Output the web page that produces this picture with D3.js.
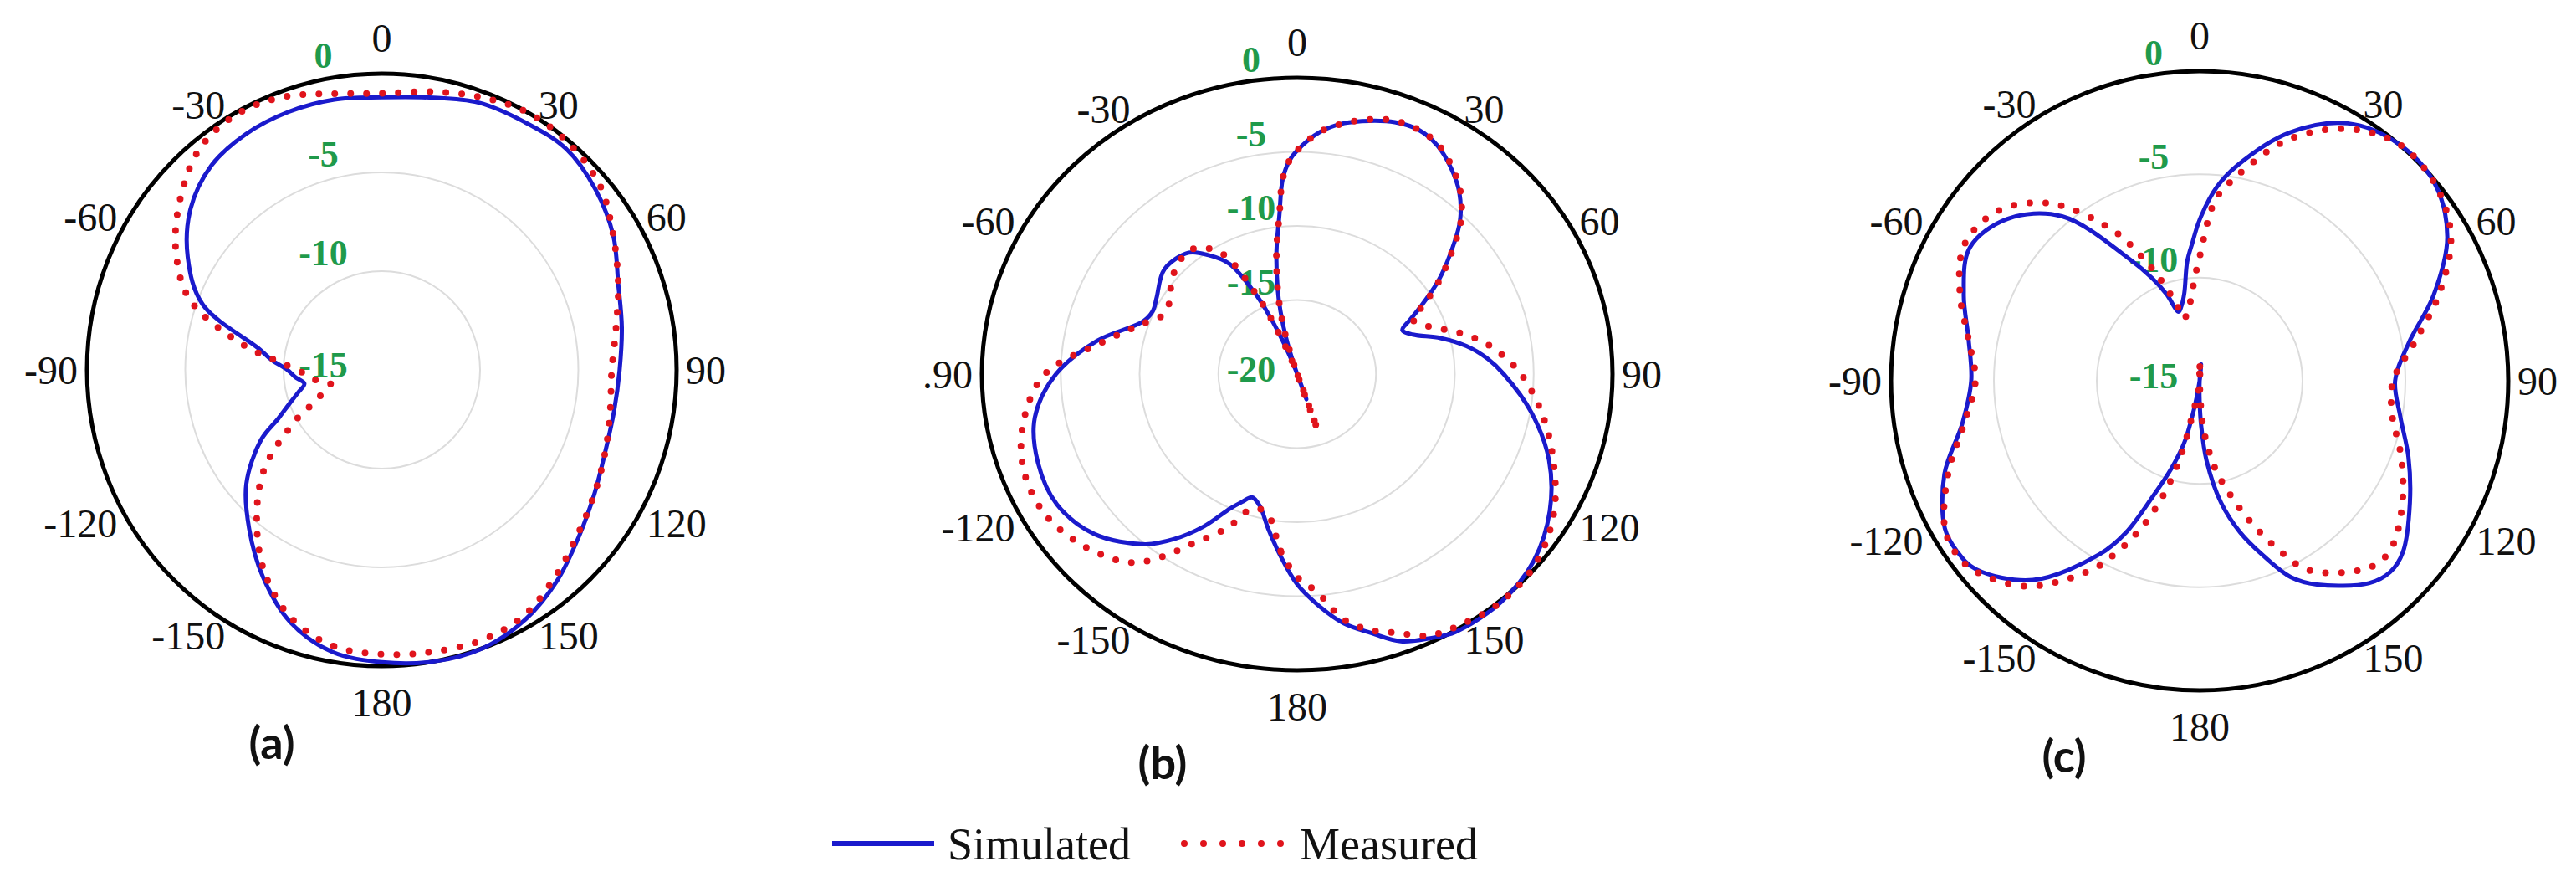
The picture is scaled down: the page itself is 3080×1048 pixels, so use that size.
<!DOCTYPE html>
<html>
<head>
<meta charset="utf-8">
<script src="https://cdn.jsdelivr.net/npm/d3@7"></script>
<style>
  body { margin: 0; background: #fff; }
  svg { display: block; }
</style>
</head>
<body>
<div id="chart"></div>
<script>
const width = 3080, height = 1048;

// angle ticks, clockwise from the top
const angleTicks = [0, 30, 60, 90, 120, 150, 180, -150, -120, -90, -60, -30];
const angleLabelsA = ["0", "30", "60", "90", "120", "150", "180", "-150", "-120", "-90", "-60", "-30"];
const angleLabelsB = ["0", "30", "60", "90", "120", "150", "180", "-150", "-120", ".90", "-60", "-30"];
const angleLabelsC = angleLabelsA;

// radial rings in dB (outer ring first)
const ringsA = [0, -5, -10, -15];
const ringsB = [0, -5, -10, -15, -20];
const ringsC = [0, -5, -10, -15];

const seriesNames = ["Simulated", "Measured"];
const panelNames = ["(a)", "(b)", "(c)"];

// (a) pattern, dB
const anglesA = [-180, -170, -160, -150, -140, -130, -120, -115, -110, -105, -100, -95, -90, -85, -80, -70, -60, -50, -40, -30,
  -20, -10, 0, 10, 20, 30, 40, 50, 60, 70, 80, 90, 100, 110, 120, 130, 140, 150, 160, 170];
const simA = [-0.2, -0.5, -1.4, -2.9, -4.5, -6.0, -7.9, -9.2, -10.0, -10.6, -11.0, -10.6, -10.2, -9.4, -8.6, -5.3, -3.6, -2.3, -1.5, -1.2,
  -1.1, -1.1, -1.2, -1.0, -0.6, -0.5, -0.4, -0.8, -1.4, -2.2, -2.6, -2.9, -3.0, -2.9, -2.5, -1.9, -1.1, -0.4, 0.0, 0.0];
const measA = [-0.6, -0.8, -1.6, -3.1, -5.1, -7.2, -10.0, -11.3, -11.9, -12.3, -11.7, -11.3, -10.7, -9.6, -7.9, -4.6, -2.9, -1.6, -0.5, -0.1,
  -0.3, -0.8, -1.0, -0.7, -0.3, 0.0, -0.1, -0.5, -1.4, -2.2, -2.9, -3.3, -3.2, -2.9, -2.5, -2.0, -1.3, -0.6, -0.4, -0.5];

// (b) pattern, dB (values under -20 fold through the centre)
const anglesB = [-180, -175, -170, -165, -161, -158, -155, -150, -145, -140,
  -130, -120, -110, -100, -90, -80, -70, -65, -60, -50,
  -40, -35, -30, -26, -24, -22, -20, -19, -18, -16,
  -14, -12, -9, -6, -4, -2, 0, 5, 10, 15,
  20, 25, 30, 35, 40, 45, 50, 55, 60, 63,
  66, 70, 75, 80, 85, 90, 100, 110, 120, 130,
  140, 150, 155, 160, 165, 170, 175];
const simB = [-5.8, -7.7, -9.4, -10.8, -11.2, -10.7, -10.0, -8.1, -6.4, -5.0,
  -3.2, -2.4, -2.5, -3.1, -4.7, -7.1, -9.6, -9.9, -9.7, -9.0,
  -9.3, -10.2, -11.4, -14.0, -15.8, -17.8, -19.6, -21.8, -19.6, -17.4,
  -15.6, -14.0, -11.6, -9.2, -6.8, -5.6, -4.9, -3.6, -2.8, -2.3,
  -1.9, -1.8, -2.2, -3.0, -4.0, -5.4, -7.3, -9.1, -11.0, -12.0,
  -12.7, -12.2, -10.6, -9.1, -7.9, -6.9, -4.9, -3.0, -1.5, -0.4,
  0.1, 0.1, -0.3, -0.8, -1.9, -2.9, -4.3];
const measB = [-6.3, -8.0, -10.1, -10.6, -10.2, -9.1, -8.2, -6.8, -4.9, -3.4,
  -2.1, -1.4, -1.5, -2.4, -4.0, -7.5, -9.8, -10.6, -10.6, -9.7,
  -9.2, -9.6, -10.7, -13.8, -15.8, -17.8, -19.6, -24.0, -19.6, -17.4,
  -15.6, -14.0, -11.6, -9.2, -6.8, -5.6, -4.9, -3.6, -2.8, -2.2,
  -1.8, -1.8, -2.1, -2.9, -3.9, -5.3, -7.2, -9.0, -10.8, -11.8,
  -11.6, -10.8, -9.3, -7.9, -6.8, -5.8, -4.2, -2.7, -1.2, -0.2,
  0.1, -0.2, -0.5, -1.4, -2.1, -3.2, -5.2];

// (c) pattern, dB
const anglesC = [-180, -177, -175, -172, -169, -166, -162, -158, -154, -150,
  -140, -130, -125, -120, -110, -100, -90, -80, -70, -60,
  -50, -40, -30, -25, -21, -17, -14, -10, -6, -3,
  0, 5, 10, 20, 30, 40, 50, 60, 70, 80,
  90, 100, 110, 120, 130, 135, 140, 150, 155, 160,
  165, 170, 175, 178];
const simC = [-14.0, -15.0, -15.8, -15.0, -13.7, -11.9, -10.5, -9.0, -6.8, -5.3,
  -2.4, -0.8, -0.6, -0.7, -1.8, -3.3, -3.9, -3.6, -2.8, -2.1,
  -2.8, -4.6, -8.2, -9.5, -10.5, -11.5, -11.3, -10.7, -9.2, -8.3,
  -7.2, -5.6, -4.4, -2.2, -0.6, 0.0, -0.1, -1.1, -2.9, -4.7,
  -5.5, -5.1, -4.2, -3.2, -2.1, -1.9, -2.2, -3.6, -4.5, -6.0,
  -7.4, -9.0, -11.1, -12.8];
const measC = [-15.9, -15.3, -14.7, -14.1, -13.7, -11.3, -9.0, -7.2, -5.7, -4.4,
  -2.0, -0.7, -0.5, -0.7, -2.0, -3.4, -4.1, -3.6, -2.6, -1.8,
  -2.2, -3.8, -6.6, -8.4, -9.8, -11.1, -11.9, -11.6, -11.0, -10.1,
  -9.0, -6.2, -5.0, -2.6, -0.9, 0.0, -0.1, -0.9, -2.6, -4.4,
  -5.6, -5.5, -4.6, -3.6, -2.7, -2.6, -3.0, -4.4, -6.0, -7.7,
  -9.3, -10.7, -12.5, -14.1];

const blue = "#1a1acc", red = "#e0141c", green = "#1f9a4b";
const serif = "'Liberation Serif', 'Times New Roman', serif";

// layout of the three dials
const panels = [
  {cx: 456.5, cy: 442, rx: 352.5, ry: 354, rings: ringsA, labels: angleLabelsA, angles: anglesA, sim: simA, meas: measA, ringDx: -70, name: panelNames[0], nameX: 325, nameY: 888},
  {cx: 1551, cy: 447, rx: 377, ry: 354, rings: ringsB, labels: angleLabelsB, angles: anglesB, sim: simB, meas: measB, ringDx: -55, name: panelNames[1], nameX: 1390, nameY: 912},
  {cx: 2630, cy: 455, rx: 369, ry: 370, rings: ringsC, labels: angleLabelsC, angles: anglesC, sim: simC, meas: measC, ringDx: -55, name: panelNames[2], nameX: 2468, nameY: 904}
];

var svg = d3.select("#chart").append("svg")
    .attr("width", width)
    .attr("height", height);

svg.append("rect").attr("width", width).attr("height", height).style("fill", "#fff");

const rad = a => a * Math.PI / 180;

function drawPanel(p) {
    const g = svg.append("g").attr("transform", `translate(${p.cx},${p.cy})`);
    const lo = d3.min(p.rings);
    const r = d3.scaleLinear().domain([lo, 0]).range([0, 1]);
    const px = (a, v) => r(v) * p.rx * Math.sin(rad(a));
    const py = (a, v) => -r(v) * p.ry * Math.cos(rad(a));

    g.selectAll("ellipse.grid")
        .data(p.rings.filter(v => v < 0 && v > lo))
        .enter().append("ellipse")
        .attr("class", "grid")
        .attr("rx", v => r(v) * p.rx)
        .attr("ry", v => r(v) * p.ry)
        .style("fill", "none")
        .style("stroke", "#dcdcdc")
        .style("stroke-width", 2);

    g.append("ellipse")
        .attr("rx", p.rx)
        .attr("ry", p.ry)
        .style("fill", "none")
        .style("stroke", "#000")
        .style("stroke-width", 5);

    // angle labels sit just off the outer ring
    g.selectAll("text.ang")
        .data(angleTicks)
        .enter().append("text")
        .attr("class", "ang")
        .attr("x", a => {
            const s = Math.sin(rad(a));
            return Math.abs(s) < 0.01 ? 0 : p.rx * s + Math.sign(s) * 11;
        })
        .attr("y", a => {
            const s = Math.sin(rad(a)), c = Math.cos(rad(a));
            return -p.ry * c - c * (Math.abs(s) < 0.01 ? 43 : 12);
        })
        .attr("dy", "0.35em")
        .attr("text-anchor", a => {
            const s = Math.sin(rad(a));
            return Math.abs(s) < 0.01 ? "middle" : (s > 0 ? "start" : "end");
        })
        .style("font-family", serif)
        .style("font-size", "48px")
        .style("fill", "#111")
        .text((a, i) => p.labels[i]);

    // dB labels along the 0 direction
    g.selectAll("text.db")
        .data(p.rings)
        .enter().append("text")
        .attr("class", "db")
        .attr("x", p.ringDx)
        .attr("y", v => v === lo ? -6 : -r(v) * p.ry - 22)
        .attr("dy", "0.35em")
        .attr("text-anchor", "middle")
        .style("font-family", serif)
        .style("font-weight", "bold")
        .style("font-size", "44px")
        .style("fill", green)
        .text(v => v);

    const line = d3.line()
        .x(d => px(d[0], d[1]))
        .y(d => py(d[0], d[1]))
        .curve(d3.curveCatmullRomClosed.alpha(0.5));

    g.append("path")
        .datum(d3.zip(p.angles, p.sim))
        .attr("d", line)
        .style("fill", "none")
        .style("stroke", blue)
        .style("stroke-width", 5)
        .style("stroke-linejoin", "round");

    g.append("path")
        .datum(d3.zip(p.angles, p.meas))
        .attr("d", line)
        .style("fill", "none")
        .style("stroke", red)
        .style("stroke-width", 8)
        .style("stroke-linecap", "round")
        .style("stroke-dasharray", "0 19");

    svg.append("text")
        .attr("x", p.nameX)
        .attr("y", p.nameY)
        .attr("dy", "0.35em")
        .attr("text-anchor", "middle")
        .style("font-family", "Lato, 'Open Sans', sans-serif")
        .style("font-weight", "bold")
        .style("font-size", "54px")
        .style("fill", "#111")
        .text(p.name);
}

panels.forEach(drawPanel);

// legend
var legend = svg.append("g").attr("id", "legend");
legend.append("line")
    .attr("x1", 995).attr("x2", 1117)
    .attr("y1", 1008).attr("y2", 1008)
    .style("stroke", blue)
    .style("stroke-width", 6);
legend.append("text")
    .attr("x", 1133).attr("y", 1027)
    .style("font-family", serif)
    .style("font-size", "54px")
    .style("fill", "#111")
    .text(seriesNames[0]);
legend.append("line")
    .attr("x1", 1416).attr("x2", 1532)
    .attr("y1", 1008).attr("y2", 1008)
    .style("stroke", red)
    .style("stroke-width", 8)
    .style("stroke-linecap", "round")
    .style("stroke-dasharray", "0 23");
legend.append("text")
    .attr("x", 1554).attr("y", 1027)
    .style("font-family", serif)
    .style("font-size", "54px")
    .style("fill", "#111")
    .text(seriesNames[1]);
</script>
</body>
</html>
